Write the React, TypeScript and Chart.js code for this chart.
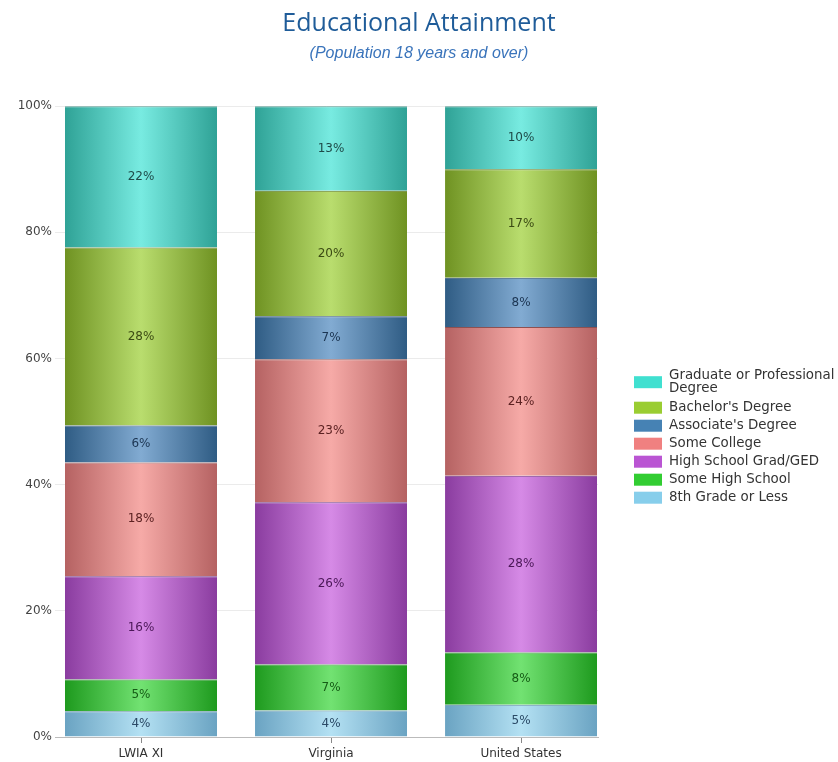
import React, { useEffect, useRef } from 'react';
import { Chart, registerables } from 'chart.js';

Chart.register(...registerables);

const categories = ['LWIA XI', 'Virginia', 'United States'];
const seriesNames = [
  '8th Grade or Less',
  'Some High School',
  'High School Grad/GED',
  'Some College',
  "Associate's Degree",
  "Bachelor's Degree",
  'Graduate or Professional Degree',
];
const eighthGrade = [4.1, 4.2, 5.1];
const someHighSchool = [5.0, 7.3, 8.3];
const highSchoolGrad = [16.4, 25.7, 28.0];
const someCollege = [18.0, 22.7, 23.6];
const associate = [5.9, 6.8, 7.8];
const bachelor = [28.2, 19.9, 17.2];
const graduate = [22.4, 13.4, 10.0];
const seriesValues = [eighthGrade, someHighSchool, highSchoolGrad, someCollege, associate, bachelor, graduate];
const legendLines = [
  ['8th Grade or Less'],
  ['Some High School'],
  ['High School Grad/GED'],
  ['Some College'],
  ["Associate's Degree"],
  ["Bachelor's Degree"],
  ['Graduate or Professional', 'Degree'],
];

const legendColors = ['#87CEEB', '#32CD32', '#BA55D3', '#F08080', '#4682B4', '#9ACD32', '#40E0D0'];
const edgeColors = ['#6aa3c2', '#1e9a1e', '#8a3c9f', '#b56262', '#2f5c84', '#6f9222', '#2fa296'];
const centerColors = ['#b4e1f3', '#72e272', '#d68ae6', '#f6aaa7', '#82abd2', '#b9dd6e', '#78ebe1'];
const lineColors = ['#5a8aa4', '#1a7f1a', '#6f3180', '#8f5050', '#274c6c', '#5a771c', '#278479'];
const labelColors = ['#2b4a66', '#165c16', '#4a1757', '#5c2222', '#1c3552', '#3b4a13', '#1e4a48'];

const FONT = 'DejaVu Sans';

const valueLabels = {
  id: 'valueLabels',
  afterDatasetsDraw(chart: any) {
    const { ctx } = chart;
    ctx.save();
    ctx.font = `12px "${FONT}"`;
    ctx.textAlign = 'center';
    ctx.textBaseline = 'middle';
    chart.data.datasets.forEach((_ds: any, di: number) => {
      const meta = chart.getDatasetMeta(di);
      meta.data.forEach((bar: any, i: number) => {
        const v = seriesValues[di][i];
        const { x, y, base } = bar.getProps(['x', 'y', 'base'], true);
        ctx.fillStyle = labelColors[di];
        ctx.fillText(Math.round(v) + '%', x, (y + base) / 2);
      });
    });
    ctx.restore();
  },
};

// Legend drawn on the right, in the space reserved by the spacer axis.
const sideLegend = {
  id: 'sideLegend',
  afterDraw(chart: any) {
    const { ctx, chartArea } = chart;
    const boxX = chartArea.right + 36;
    const boxW = 28;
    const boxH = 12;
    const lineH = 13;
    const gap = 5;
    ctx.save();
    ctx.font = `13.4px "${FONT}"`;
    ctx.textAlign = 'left';
    ctx.textBaseline = 'middle';
    let y = chartArea.top + 263; // top of first item
    const order = [6, 5, 4, 3, 2, 1, 0];
    order.forEach((di) => {
      const lines = legendLines[di];
      const h = Math.max(boxH, lineH * lines.length);
      ctx.fillStyle = legendColors[di];
      ctx.fillRect(boxX, y + (h - boxH) / 2, boxW, boxH);
      ctx.fillStyle = '#333';
      lines.forEach((t, li) => {
        ctx.fillText(t, boxX + boxW + 7, y + lineH / 2 + li * lineH);
      });
      y += (lines.length > 1 ? h + 1 : h) + gap;
    });
    ctx.restore();
  },
};

function makeGradient(context: any, di: number) {
  const chart = context.chart;
  const xs = chart.scales && chart.scales.x;
  if (!chart.chartArea || !xs || context.type !== 'data') return legendColors[di];
  const cx = xs.getPixelForValue(context.dataIndex);
  const unit = xs.getPixelForValue(1) - xs.getPixelForValue(0);
  const w = unit * 0.8;
  const g = chart.ctx.createLinearGradient(cx - w / 2, 0, cx + w / 2, 0);
  g.addColorStop(0, edgeColors[di]);
  g.addColorStop(0.5, centerColors[di]);
  g.addColorStop(1, edgeColors[di]);
  return g;
}

export default function App() {
  const canvasRef = useRef<HTMLCanvasElement | null>(null);

  useEffect(() => {
    if (!canvasRef.current) return;
    const datasets = seriesNames.map((name, di) => ({
      label: name,
      data: categories.map((_c, i) => ({ x: i, y: seriesValues[di][i] })),
      backgroundColor: (ctx: any) => makeGradient(ctx, di),
      borderColor: lineColors[di],
      borderWidth: { top: 1, bottom: 0, left: 0, right: 0 },
      borderSkipped: false,
      categoryPercentage: 1,
      barPercentage: 0.8,
    }));

    const chart = new Chart(canvasRef.current, {
      type: 'bar',
      data: { datasets: datasets as any },
      plugins: [valueLabels, sideLegend],
      options: {
        animation: false,
        responsive: true,
        maintainAspectRatio: false,
        layout: { padding: 0 },
        scales: {
          x: {
            type: 'linear',
            stacked: true,
            offset: false,
            min: -0.4526,
            max: 2.405,
            afterBuildTicks: (s: any) => {
              s.ticks = categories.map((_c, i) => ({ value: i }));
            },
            afterFit: (s: any) => {
              s.height = 25;
            },
            ticks: {
              callback: (v: any) => categories[v] ?? '',
              autoSkip: false,
              maxRotation: 0,
              color: '#333',
              font: { family: FONT, size: 12 },
              padding: 4,
            },
            grid: { display: true, offset: false, drawOnChartArea: false, drawTicks: true, tickLength: 6, color: '#888' },
            border: { display: true, color: '#bbb' },
          },
          y: {
            stacked: true,
            min: 0,
            max: 100,
            afterFit: (s: any) => {
              s.width = 55;
            },
            ticks: {
              stepSize: 20,
              callback: (v: any) => v + '%',
              color: '#444',
              font: { family: FONT, size: 12 },
              padding: 3,
            },
            grid: { color: '#ebebeb', drawTicks: false },
            border: { display: false },
          },
          spacer: {
            type: 'linear',
            position: 'right',
            display: true,
            grid: { display: false },
            border: { display: false },
            ticks: { display: false },
            afterFit: (s: any) => {
              s.width = 240;
            },
          },
        } as any,
        plugins: {
          tooltip: { enabled: false },
          legend: { display: false },
          title: {
            display: true,
            text: 'Educational Attainment',
            color: '#1f5c99',
            font: { family: 'Open Sans', size: 25, weight: 'normal', lineHeight: 1.2 },
            padding: { top: 9, bottom: 2 },
          },
          subtitle: {
            display: true,
            text: '(Population 18 years and over)',
            color: '#3a74bb',
            font: { family: 'Liberation Sans', size: 16, style: 'italic', weight: 'normal', lineHeight: 1.2 },
            padding: { top: 3, bottom: 43 },
          },
        },
      } as any,
    });
    return () => chart.destroy();
  }, []);

  return (
    <div style={{ position: 'fixed', left: 0, top: 0, width: 838, height: 762, background: '#fff' }}>
      <canvas ref={canvasRef} />
    </div>
  );
}
